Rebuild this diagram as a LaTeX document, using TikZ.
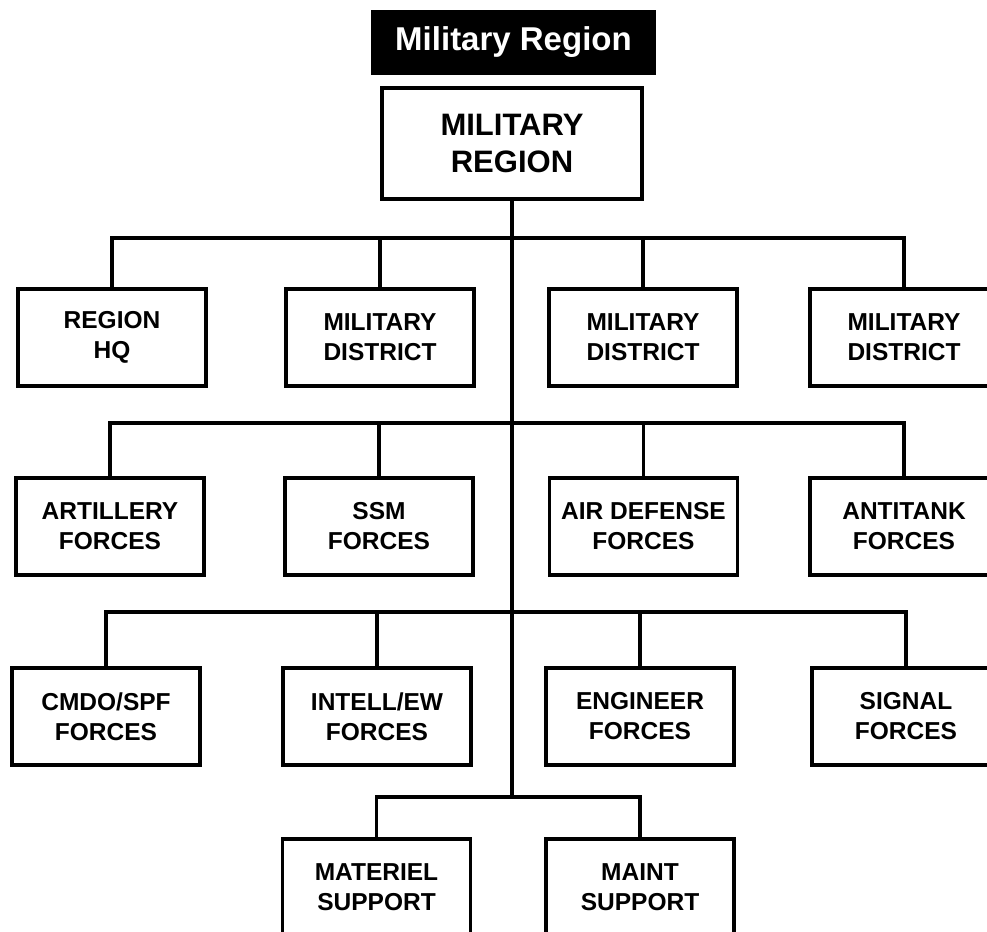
\documentclass[tikz,border=0pt]{standalone}
\usepackage{fontspec}
\setmainfont{Liberation Sans}
\begin{document}
\begin{tikzpicture}[x=1pt, y=-1pt,
  unitbox/.style={draw, line width=3.2pt, minimum width=188pt, minimum height=97pt,
    align=center, inner sep=0pt, font=\fontsize{24.5}{30}\selectfont\bfseries},
  link/.style={line width=3.2pt}]
  \useasboundingbox (0,0) rectangle (987,931);
  \clip (0,0) rectangle (987,931);

  % Banner and top command
  \node[fill=black, minimum width=285pt, minimum height=65pt, text=white,
    font=\fontsize{33}{36}\selectfont\bfseries] (banner) at (513.5,42.5) {Military Region};
  \node[unitbox, minimum width=260pt, minimum height=111pt,
    font=\fontsize{31}{37}\selectfont\bfseries] (mr) at (512,143.5) {MILITARY\\REGION};

  % Bus levels on the trunk
  \coordinate (bus1) at (512,238);
  \coordinate (bus2) at (512,423);
  \coordinate (bus3) at (512,612);
  \coordinate (bus4) at (512,797);

  % First row: headquarters and districts
  \node[unitbox] (hq)   at (112,337.5) {REGION\\HQ};
  \node[unitbox] (md1)  at (380,337.5) {MILITARY\\DISTRICT};
  \node[unitbox] (md2)  at (643,337.5) {MILITARY\\DISTRICT};
  \node[unitbox] (md3)  at (904,337.5) {MILITARY\\DISTRICT};

  % Second row: fire support
  \node[unitbox] (arty) at (110,526.5) {ARTILLERY\\FORCES};
  \node[unitbox] (ssm)  at (379,526.5) {SSM\\FORCES};
  \node[unitbox] (ad)   at (643.5,526.5) {AIR DEFENSE\\FORCES};
  \node[unitbox] (at)   at (904,526.5) {ANTITANK\\FORCES};

  % Third row: combat support
  \node[unitbox] (cmdo) at (106,716.5) {CMDO/SPF\\FORCES};
  \node[unitbox] (intl) at (377,716.5) {INTELL/EW\\FORCES};
  \node[unitbox] (engr) at (640,716.5) {ENGINEER\\FORCES};
  \node[unitbox] (sig)  at (906,716.5) {SIGNAL\\FORCES};

  % Fourth row: logistics
  \node[unitbox] (mat)  at (376.5,887.5) {MATERIEL\\SUPPORT};
  \node[unitbox] (mnt)  at (640,887.5) {MAINT\\SUPPORT};

  % Trunk from the region down to the last bus
  \draw[link] (mr.south) -- (bus4);

  % Buses with their drops
  \draw[link] (hq.north) |- (bus1) -| (md3.north);
  \draw[link] (md1.north) -- (md1.north |- bus1);
  \draw[link] (md2.north) -- (md2.north |- bus1);

  \draw[link] (arty.north) |- (bus2) -| (at.north);
  \draw[link] (ssm.north) -- (ssm.north |- bus2);
  \draw[link] (ad.north) -- (ad.north |- bus2);

  \draw[link] (cmdo.north) |- (bus3) -| (sig.north);
  \draw[link] (intl.north) -- (intl.north |- bus3);
  \draw[link] (engr.north) -- (engr.north |- bus3);

  \draw[link] (mat.north) |- (bus4) -| (mnt.north);
\end{tikzpicture}
\end{document}
